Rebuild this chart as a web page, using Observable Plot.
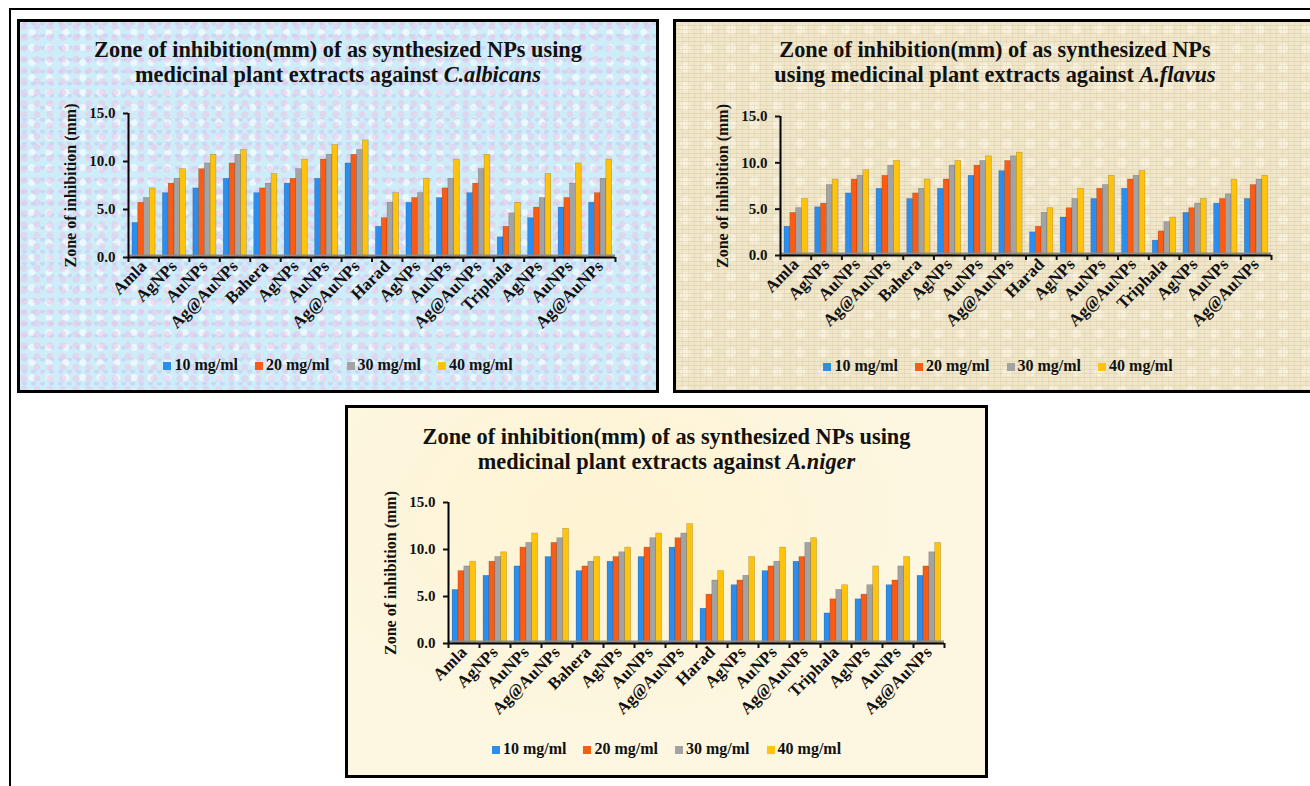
<!DOCTYPE html>
<html><head><meta charset="utf-8">
<script src="https://cdn.jsdelivr.net/npm/d3@7"></script>
<script src="https://cdn.jsdelivr.net/npm/@observablehq/plot@0.6"></script>
<style>
body{margin:0;background:#fff;width:1310px;height:786px;overflow:hidden;font-family:"Liberation Serif","Times New Roman",serif;}
#page{position:relative;width:1310px;height:786px;overflow:hidden;}
.frame{position:absolute;left:9px;top:8px;width:1400px;height:900px;border-left:2px solid #000;border-top:2px solid #000;}
.panel{position:absolute;border:3px solid #000;box-sizing:border-box;}
.p1{left:17px;top:19px;width:642px;height:374px;
 background-color:#cdeef8;
 background-image:radial-gradient(circle at 30% 40%, rgba(238,196,232,0.55) 0 3px, transparent 4px),
 radial-gradient(circle at 70% 70%, rgba(255,255,255,0.6) 0 3px, transparent 4px),
 radial-gradient(circle at 50% 10%, rgba(196,188,240,0.45) 0 2px, transparent 3px);
 background-size:13px 11px, 17px 15px, 9px 12px;}
.p2{left:673px;top:19px;width:660px;height:374px;
 background-color:#f0e6ca;
 background-image:repeating-linear-gradient(0deg, rgba(150,125,80,0.12) 0 1px, transparent 1px 4px),
 repeating-linear-gradient(90deg, rgba(150,125,80,0.09) 0 1px, transparent 1px 6px),
 radial-gradient(circle at 40% 40%, rgba(255,250,235,0.5) 0 4px, transparent 6px);
 background-size:auto, auto, 23px 19px;}
.p3{left:345px;top:405px;width:643px;height:373px;
 background-color:#fdf7e1;
 background-image:radial-gradient(ellipse at 40% 30%, rgba(255,240,200,0.6), transparent 60%);}
.title{position:absolute;text-align:center;font-weight:bold;font-size:23px;line-height:25px;color:#111;transform:scaleX(0.97);}
.legend{position:absolute;font-weight:bold;font-size:16px;display:flex;justify-content:center;gap:17px;color:#111;}
.legend span.sw{display:inline-block;width:8px;height:8px;margin-right:3px;}
.chart{position:absolute;}
.chart svg{overflow:visible;}
</style>
</head><body>
<div id="page">
 <div class="frame"></div>
 <div class="panel p1"></div>
 <div class="panel p2"></div>
 <div class="panel p3"></div>
</div>
<script>
const groups = ["Amla","AgNPs","AuNPs","Ag@AuNPs","Bahera","AgNPs","AuNPs","Ag@AuNPs","Harad","AgNPs","AuNPs","Ag@AuNPs","Triphala","AgNPs","AuNPs","Ag@AuNPs"];
const series = ["10 mg/ml","20 mg/ml","30 mg/ml","40 mg/ml"];
const colors = ["#2b8ded","#fb5b12","#a3a3a3","#ffc30b"];
const yTicks = [0,5,10,15];

// C. albicans
const ca10 = [3.6,6.7,7.2,8.2,6.7,7.7,8.2,9.8,3.2,5.7,6.2,6.7,2.1,4.1,5.2,5.7];
const ca20 = [5.7,7.7,9.2,9.8,7.2,8.2,10.2,10.7,4.1,6.2,7.2,7.7,3.2,5.2,6.2,6.7];
const ca30 = [6.2,8.2,9.8,10.7,7.7,9.2,10.7,11.2,5.7,6.7,8.2,9.2,4.6,6.2,7.7,8.2];
const ca40 = [7.2,9.2,10.7,11.2,8.7,10.2,11.7,12.2,6.7,8.2,10.2,10.7,5.7,8.7,9.8,10.2];
// A. flavus
const af10 = [3.1,5.2,6.7,7.2,6.1,7.2,8.6,9.1,2.5,4.1,6.1,7.2,1.6,4.6,5.6,6.1];
const af20 = [4.6,5.6,8.2,8.6,6.7,8.2,9.7,10.2,3.1,5.1,7.2,8.2,2.6,5.1,6.1,7.6];
const af30 = [5.1,7.6,8.6,9.7,7.2,9.7,10.2,10.7,4.6,6.1,7.6,8.6,3.6,5.6,6.6,8.2];
const af40 = [6.1,8.2,9.2,10.2,8.2,10.2,10.7,11.1,5.1,7.2,8.6,9.1,4.1,6.1,8.2,8.6];
// A. niger
const an10 = [5.7,7.2,8.2,9.2,7.7,8.7,9.2,10.2,3.7,6.2,7.7,8.7,3.2,4.7,6.2,7.2];
const an20 = [7.7,8.7,10.2,10.7,8.2,9.2,10.2,11.2,5.2,6.7,8.2,9.2,4.7,5.2,6.7,8.2];
const an30 = [8.2,9.2,10.7,11.2,8.7,9.7,11.2,11.7,6.7,7.2,8.7,10.7,5.7,6.2,8.2,9.7];
const an40 = [8.7,9.7,11.7,12.2,9.2,10.2,11.7,12.7,7.7,9.2,10.2,11.2,6.2,8.2,9.2,10.7];

const panels = [
 {lines:["Zone of inhibition(mm)  of as synthesized NPs using","medicinal plant extracts against "], org:"C.albicans",
  data:[ca10,ca20,ca30,ca40], box:{left:17,width:642}, titleTop:37,
  plot:{left:128,right:615,top:113,bottom:257}, yLabelX:70, legendTop:356},
 {lines:["Zone of inhibition(mm)  of as synthesized NPs","using medicinal plant extracts against "], org:"A.flavus",
  data:[af10,af20,af30,af40], box:{left:673,width:644}, titleTop:37,
  plot:{left:780,right:1271,top:116,bottom:255}, yLabelX:722, legendTop:357},
 {lines:["Zone of inhibition(mm)  of as synthesized NPs using","medicinal plant extracts against "], org:"A.niger",
  data:[an10,an20,an30,an40], box:{left:345,width:643}, titleTop:424,
  plot:{left:448,right:944,top:502,bottom:643}, yLabelX:390, legendTop:740}
];

const page = document.getElementById("page");
for (const p of panels) {
  const t = document.createElement("div");
  t.className = "title";
  t.style.left = p.box.left + "px"; t.style.width = p.box.width + "px"; t.style.top = p.titleTop + "px";
  t.innerHTML = p.lines[0] + "<br>" + p.lines[1] + "<i>" + p.org + "</i>";
  page.appendChild(t);

  const rows = [];
  p.data.forEach((arr, s) => arr.forEach((v, g) => rows.push({g, s, series: series[s], v})));

  const svgLeft = p.plot.left - 110, svgTop = p.plot.top - 15;
  const W = 520 + 110, H = (p.plot.bottom - p.plot.top) + 15 + 90;
  const plotEl = Plot.plot({
    width: W, height: H,
    marginLeft: p.plot.left - svgLeft,
    marginRight: W - (p.plot.right - svgLeft),
    marginTop: p.plot.top - svgTop,
    marginBottom: H - (p.plot.bottom - svgTop),
    style: {background: "transparent", fontFamily: "'Liberation Serif', serif", fontWeight: "bold", fontSize: "15px", color: "#111"},
    x: {domain: [0, 16], axis: null},
    y: {domain: [0, 15], axis: null},
    color: {domain: series, range: colors},
    marks: [
      Plot.rectY(rows, {x1: d => d.g + 0.13 + d.s * 0.19, x2: d => d.g + 0.13 + (d.s + 1) * 0.19, y: "v", fill: "series", stroke: "#000", strokeOpacity: 0.25, strokeWidth: 0.6}),
      Plot.ruleY([0], {stroke: "#8a8a8a", strokeWidth: 2, dy: -2}),
      Plot.ruleY([0], {stroke: "#000", strokeWidth: 2}),
      Plot.ruleX([0], {stroke: "#000", strokeWidth: 2}),
      Plot.axisY(yTicks, {anchor: "left", tickFormat: d3.format(".1f"), tickSize: 5, strokeWidth: 2, tickPadding: 8, fontSize: 15,
        label: null}),
      Plot.text(["Zone of inhibition (mm)"], {frameAnchor: "left", textAnchor: "middle", dx: -(p.plot.left - p.yLabelX), rotate: -90, fontSize: 16, fontWeight: "bold"}),
      Plot.axisX(d3.range(17), {anchor: "bottom", tickSize: 5, strokeWidth: 2, tickFormat: () => "", label: null}),
      Plot.axisX(d3.range(16).map(i => i + 0.5), {anchor: "bottom", tickSize: 0, tickRotate: -45, tickPadding: 6, fontSize: 17,
        tickFormat: d => groups[Math.floor(d)], label: null})
    ]
  });
  const wrap = document.createElement("div");
  wrap.className = "chart";
  wrap.style.left = svgLeft + "px"; wrap.style.top = svgTop + "px";
  wrap.appendChild(plotEl);
  page.appendChild(wrap);

  const lg = document.createElement("div");
  lg.className = "legend";
  lg.style.left = p.box.left + "px"; lg.style.width = (p === panels[1] ? 650 : p.box.width) + "px"; lg.style.top = p.legendTop + "px";
  lg.innerHTML = series.map((s, i) => `<div><span class="sw" style="background:${colors[i]}"></span>${s}</div>`).join("");
  page.appendChild(lg);
}
</script>
</body></html>
